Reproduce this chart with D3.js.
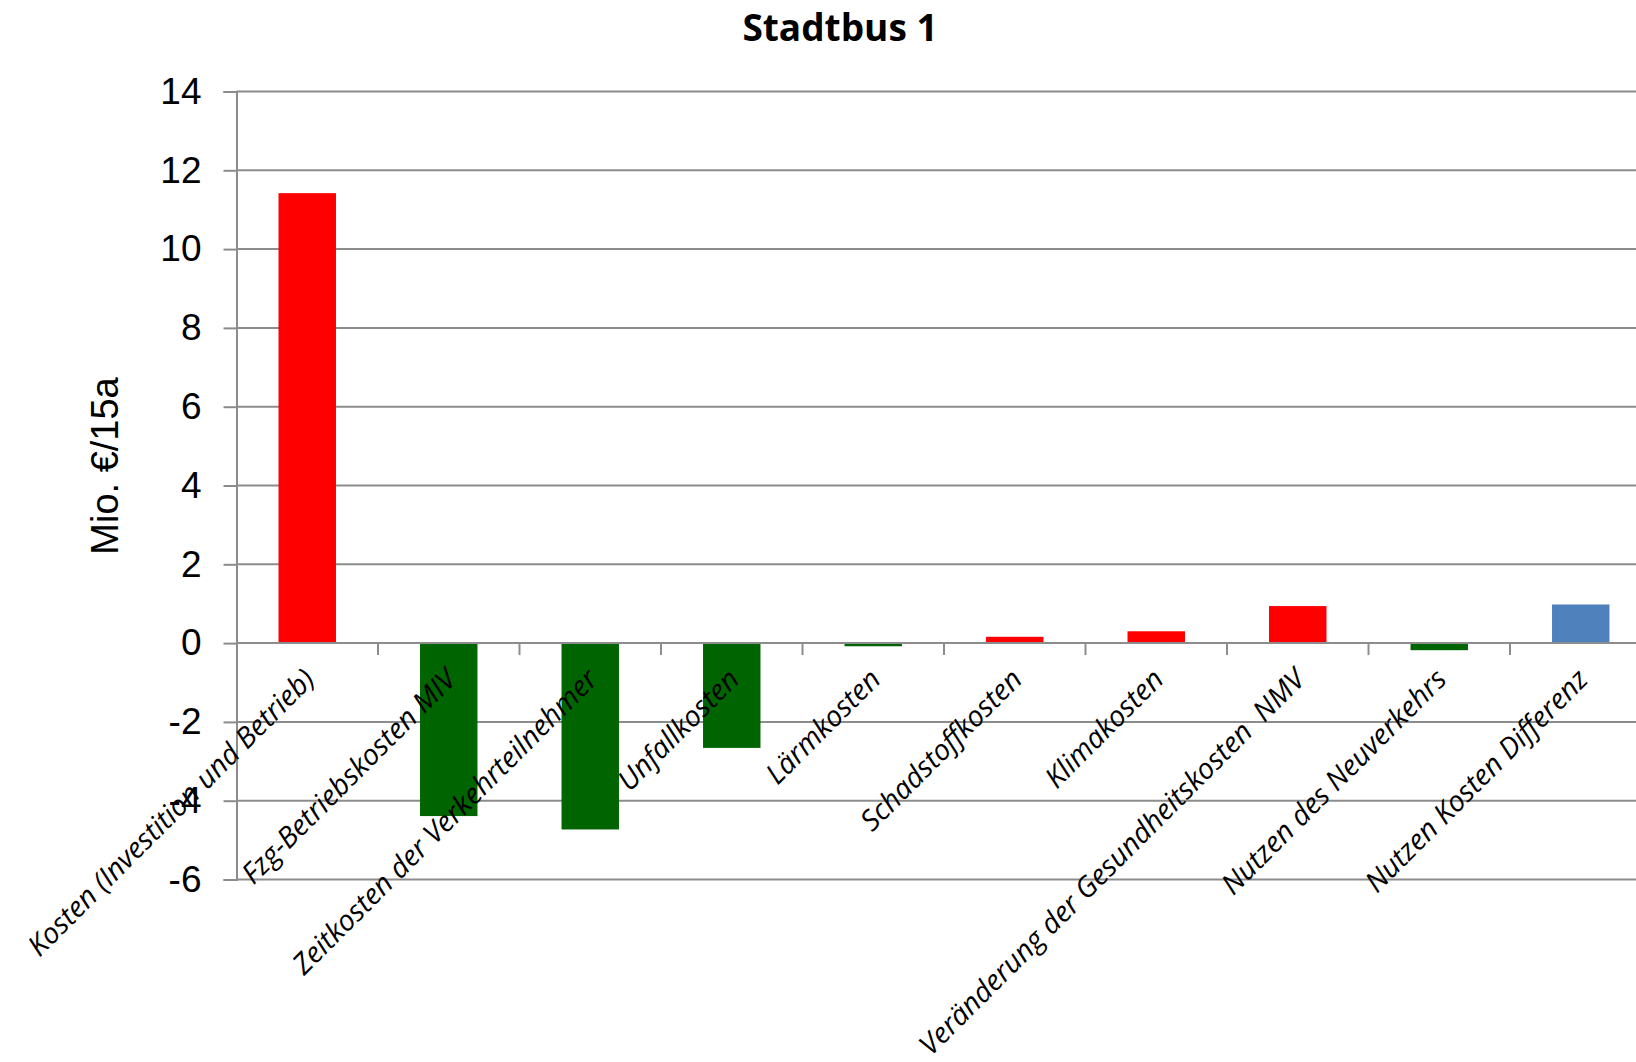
<!DOCTYPE html>
<html><head><meta charset="utf-8">
<script src="https://cdn.jsdelivr.net/npm/d3@7"></script>
<style>body{margin:0;background:#fff}svg{display:block}text{white-space:pre}</style>
</head><body>
<script>
const categories = ["Kosten (Investition und Betrieb)","Fzg-Betriebskosten MIV","Zeitkosten der Verkehrteilnehmer","Unfallkosten","Lärmkosten","Schadstoffkosten","Klimakosten","Veränderung der Gesundheitskosten  NMV","Nutzen des Neuverkehrs","Nutzen Kosten Differenz"];
const values = [11.42, -4.39, -4.73, -2.66, -0.08, 0.16, 0.30, 0.94, -0.18, 0.98];
const barColors = ["#FF0000","#006400","#006400","#006400","#006400","#FF0000","#FF0000","#FF0000","#006400","#4F81BD"];
const yTicks = [14,12,10,8,6,4,2,0,-2,-4,-6];
const title = "Stadtbus 1";
const yTitle = "Mio. €/15a";

const W = 1636, H = 1062;
const svg = d3.select("body").append("svg").attr("width", W).attr("height", H);
const left = 236.5, step = 141.5;
const x = d3.scaleBand().domain(categories).range([left, left + step*categories.length]).paddingInner(0.594).paddingOuter(0.297);
const y = d3.scaleLinear().domain([-6, 14]).range([879.5, 91.5]);

// gridlines
svg.append("g").selectAll("line").data(yTicks).join("line")
  .attr("x1", left).attr("x2", W).attr("y1", d => y(d)).attr("y2", d => y(d))
  .attr("stroke", "#8c8c8c").attr("stroke-width", 2);

// y axis
const ya = svg.append("g").attr("transform", `translate(${left},0)`)
  .call(d3.axisLeft(y).tickValues(yTicks).tickSize(13).tickPadding(22).tickFormat(d => String(d)));
ya.select(".domain").attr("stroke", "#8c8c8c").attr("stroke-width", 2);
ya.selectAll(".tick line").attr("stroke", "#8c8c8c").attr("stroke-width", 2);
ya.selectAll("text").attr("font-family", "Liberation Sans, Arial, sans-serif").attr("font-size", 37).attr("fill", "#000");

// bars
svg.append("g").selectAll("rect").data(values).join("rect")
  .attr("x", (d,i) => x(categories[i]))
  .attr("width", x.bandwidth())
  .attr("y", d => y(Math.max(0, d)))
  .attr("height", d => Math.abs(y(d) - y(0)))
  .attr("fill", (d,i) => barColors[i]);

// zero axis with category ticks
svg.append("line").attr("x1", left).attr("x2", W).attr("y1", y(0)).attr("y2", y(0))
  .attr("stroke", "#8c8c8c").attr("stroke-width", 2);
svg.append("g").selectAll("line").data(d3.range(1, categories.length)).join("line")
  .attr("x1", i => left + i*step).attr("x2", i => left + i*step)
  .attr("y1", y(0)).attr("y2", y(0) + 12)
  .attr("stroke", "#8c8c8c").attr("stroke-width", 2);

// category labels
svg.append("g").selectAll("text").data(categories).join("text")
  .attr("transform", d => `translate(${x(d) + x.bandwidth()/2 + 9},${y(0) + 38}) rotate(-45)`)
  .attr("text-anchor", "end")
  .attr("font-family", "Open Sans, sans-serif").attr("font-style", "italic")
  .attr("font-size", 28.5).attr("fill", "#000")
  .text(d => d);

// title
svg.append("text").attr("x", 840).attr("y", 41).attr("text-anchor", "middle")
  .attr("font-family", "Open Sans, sans-serif").attr("font-weight", "bold").attr("font-size", 37)
  .text(title);

// y title
svg.append("text").attr("transform", `translate(118,466) rotate(-90)`).attr("text-anchor", "middle")
  .attr("font-family", "Liberation Sans, Arial, sans-serif").attr("font-size", 38)
  .text(yTitle);
</script>
</body></html>
